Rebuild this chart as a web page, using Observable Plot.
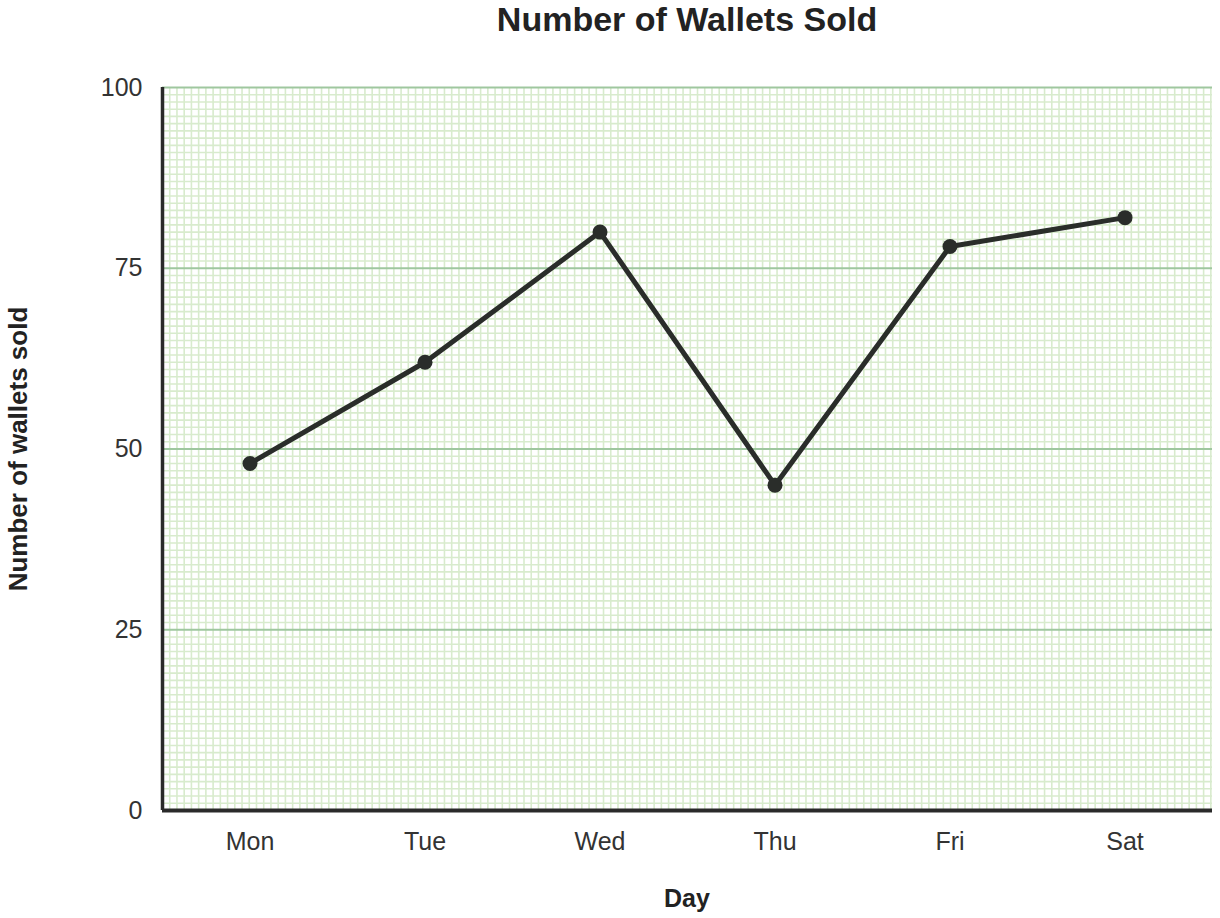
<!DOCTYPE html>
<html>
<head>
<meta charset="utf-8">
<script src="https://cdn.jsdelivr.net/npm/d3@7"></script>
<script src="https://cdn.jsdelivr.net/npm/@observablehq/plot@0.6"></script>
<style>
  body { margin: 0; background: #fff; font-family: "Liberation Sans", Arial, sans-serif; }
  #wrap { position: relative; width: 1220px; height: 918px; }
  #title { position: absolute; left: 162px; width: 1050px; top: 0; text-align: center;
    font-size: 34px; font-weight: bold; color: #222; line-height: 38px; }
  #xlabel { position: absolute; left: 162px; width: 1050px; top: 882px; text-align: center;
    font-size: 25px; font-weight: bold; color: #222; line-height: 32px; }
  #ylabel { position: absolute; left: 18px; top: 449px; transform: translate(-50%, -50%) rotate(-90deg);
    white-space: nowrap; font-size: 26px; font-weight: bold; color: #222; line-height: 32px; }
</style>
</head>
<body>
<div id="wrap"><div id="chart"></div>
<div id="title">Number of Wallets Sold</div>
<div id="xlabel">Day</div>
<div id="ylabel">Number of wallets sold</div></div>
<script>
const days = ["Mon", "Tue", "Wed", "Thu", "Fri", "Sat"];
const sold = [48, 62, 80, 45, 78, 82];
const yTicks = [0, 25, 50, 75, 100];

const data = days.map((d, i) => ({i, day: d, v: sold[i]}));

const W = 1220, H = 918, mL = 162, mR = 8, mT = 87, mB = 108;
const plotW = W - mL - mR, plotH = H - mT - mB;
const cellPx = plotH / 100;
const xStep = 6 * cellPx / plotW;
const xMinor = d3.range(-0.5, 5.5 + 1e-9, xStep);
const yMinor = d3.range(0, 101).filter(v => v % 25 !== 0);

const chart = Plot.plot({
  width: W, height: H,
  marginLeft: mL, marginRight: mR, marginTop: mT, marginBottom: mB,
  style: {fontFamily: "'Liberation Sans', Arial, sans-serif", fontSize: "25px", color: "#333", background: "#fff"},
  x: {type: "linear", domain: [-0.5, 5.5], axis: null},
  y: {domain: [0, 100], axis: null},
  marks: [
    Plot.ruleX(xMinor, {stroke: "#d8ebcd", strokeWidth: 1.6}),
    Plot.ruleY(yMinor, {stroke: "#d8ebcd", strokeWidth: 1.6}),
    Plot.ruleY([25, 50, 75, 100], {stroke: "#9fc79f", strokeWidth: 2}),
    Plot.axisX(d3.range(days.length), {tickSize: 0, tickPadding: 22, tickFormat: i => days[i],
      label: null, fontSize: 25, fill: "#333"}),
    Plot.axisY(yTicks, {tickSize: 0, tickPadding: 20, label: null, fontSize: 25, fill: "#333"}),
    Plot.ruleX([-0.5], {stroke: "#2a2a2a", strokeWidth: 3.5}),
    Plot.ruleY([0], {stroke: "#2a2a2a", strokeWidth: 4}),
    Plot.line(data, {x: "i", y: "v", stroke: "#2a2d2a", strokeWidth: 5}),
    Plot.dot(data, {x: "i", y: "v", r: 7.5, fill: "#2a2d2a", stroke: "none"})
  ]
});
document.getElementById("chart").appendChild(chart);
</script>
</body>
</html>
